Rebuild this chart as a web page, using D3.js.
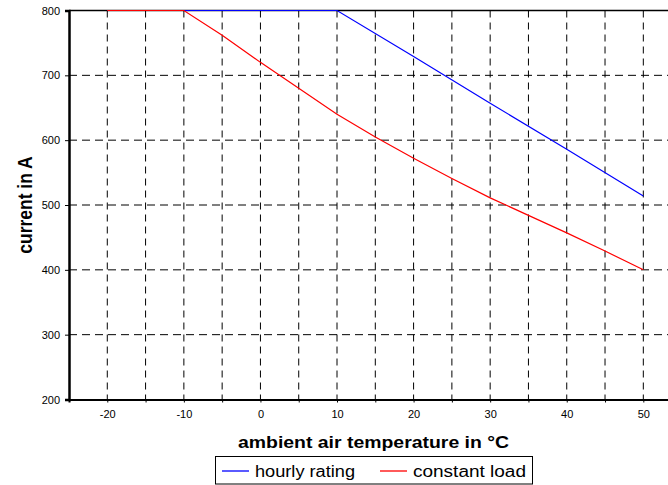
<!DOCTYPE html>
<html>
<head>
<meta charset="utf-8">
<script src="https://cdn.jsdelivr.net/npm/d3@7.9.0/dist/d3.min.js"></script>
<style>
  body { margin: 0; background: #fff; }
  svg { display: block; font-family: Arial, "Liberation Sans", sans-serif; }
</style>
</head>
<body>
<svg id="chart" width="668" height="485"></svg>
<script>
const tempTicks = [-20, -10, 0, 10, 20, 30, 40, 50];
const gridTemps = [-20, -15, -10, -5, 0, 5, 10, 15, 20, 25, 30, 35, 40, 45, 50];
const currentTicks = [200, 300, 400, 500, 600, 700, 800];

const hourlyTemp = [-20, -10, 0, 10, 20, 30, 40, 50];
const hourlyCurrent = [800, 800, 800, 800, 729, 657, 586, 514];

const constTemp = [-20, -10, -5, 0, 5, 10, 15, 20, 25, 30, 35, 40, 45, 50];
const constCurrent = [800, 800, 762, 720, 680, 640, 605, 572, 541, 511, 484, 457, 429, 400];

const svg = d3.select('#chart');
const x = d3.scaleLinear().domain([-25, 55]).range([69, 681.6]);
const y = d3.scaleLinear().domain([200, 800]).range([399.5, 10.5]);

// grid
svg.append('g').selectAll('line').data(gridTemps).join('line')
  .attr('x1', d => x(d)).attr('x2', d => x(d))
  .attr('y1', y(800)).attr('y2', y(200))
  .attr('stroke', '#000').attr('stroke-width', 1)
  .attr('stroke-dasharray', '7,5');

svg.append('g').selectAll('line').data(currentTicks.filter(d => d > 200 && d < 800)).join('line')
  .attr('x1', x(-25)).attr('x2', x(55))
  .attr('y1', d => y(d)).attr('y2', d => y(d))
  .attr('stroke', '#000').attr('stroke-width', 1)
  .attr('stroke-dasharray', '8,5');

// top border
svg.append('line')
  .attr('x1', x(-25)).attr('x2', x(55))
  .attr('y1', y(800)).attr('y2', y(800))
  .attr('stroke', '#000').attr('stroke-width', 1.5);

// axes
const xAxis = d3.axisBottom(x).tickValues(gridTemps).tickSize(3)
  .tickFormat(d => tempTicks.includes(d) ? d : '');
svg.append('g')
  .attr('transform', `translate(0,${y(200)})`)
  .call(xAxis)
  .call(g => g.select('.domain').attr('stroke-width', 2))
  .call(g => g.selectAll('text').attr('font-size', 11).attr('dy', '1.1em').attr('fill', '#000'));

const yAxis = d3.axisLeft(y).tickValues(currentTicks).tickSize(4).tickPadding(5);
svg.append('g')
  .attr('transform', `translate(${x(-25)},0)`)
  .call(yAxis)
  .call(g => g.select('.domain').attr('stroke-width', 2.5))
  .call(g => g.selectAll('text').attr('font-size', 11).attr('fill', '#000'));

// lines
const line = d3.line().x(d => x(d[0])).y(d => y(d[1]));
svg.append('path')
  .datum(hourlyTemp.map((t, i) => [t, hourlyCurrent[i]]))
  .attr('d', line).attr('fill', 'none').attr('stroke', '#0000ff').attr('stroke-width', 1.2);
svg.append('path')
  .datum(constTemp.map((t, i) => [t, constCurrent[i]]))
  .attr('d', line).attr('fill', 'none').attr('stroke', '#ff0000').attr('stroke-width', 1.2);

// axis titles (the original is stretched sideways a little)
svg.append('text')
  .attr('x', 238).attr('y', 448)
  .attr('font-size', 16).attr('font-weight', 'bold')
  .attr('textLength', 271).attr('lengthAdjust', 'spacingAndGlyphs')
  .text('ambient air temperature in °C');

svg.append('text')
  .attr('transform', 'translate(32,205) scale(1.2,1) rotate(-90)')
  .attr('text-anchor', 'middle').attr('font-size', 17.5).attr('font-weight', 'bold')
  .text('current in A');

// legend
const legend = svg.append('g');
legend.append('rect')
  .attr('x', 215.5).attr('y', 456.5).attr('width', 317).attr('height', 27.5)
  .attr('fill', '#fff').attr('stroke', '#000').attr('stroke-width', 1);
const items = [
  { label: 'hourly rating', color: '#0000ff', x0: 222, w: 100 },
  { label: 'constant load', color: '#ff0000', x0: 380, w: 113 }
];
items.forEach(it => {
  legend.append('line')
    .attr('x1', it.x0).attr('x2', it.x0 + 27)
    .attr('y1', 471).attr('y2', 471)
    .attr('stroke', it.color).attr('stroke-width', 1.3);
  legend.append('text')
    .attr('x', it.x0 + 33).attr('y', 477)
    .attr('font-size', 16)
    .attr('textLength', it.w).attr('lengthAdjust', 'spacingAndGlyphs')
    .text(it.label);
});
</script>
</body>
</html>
